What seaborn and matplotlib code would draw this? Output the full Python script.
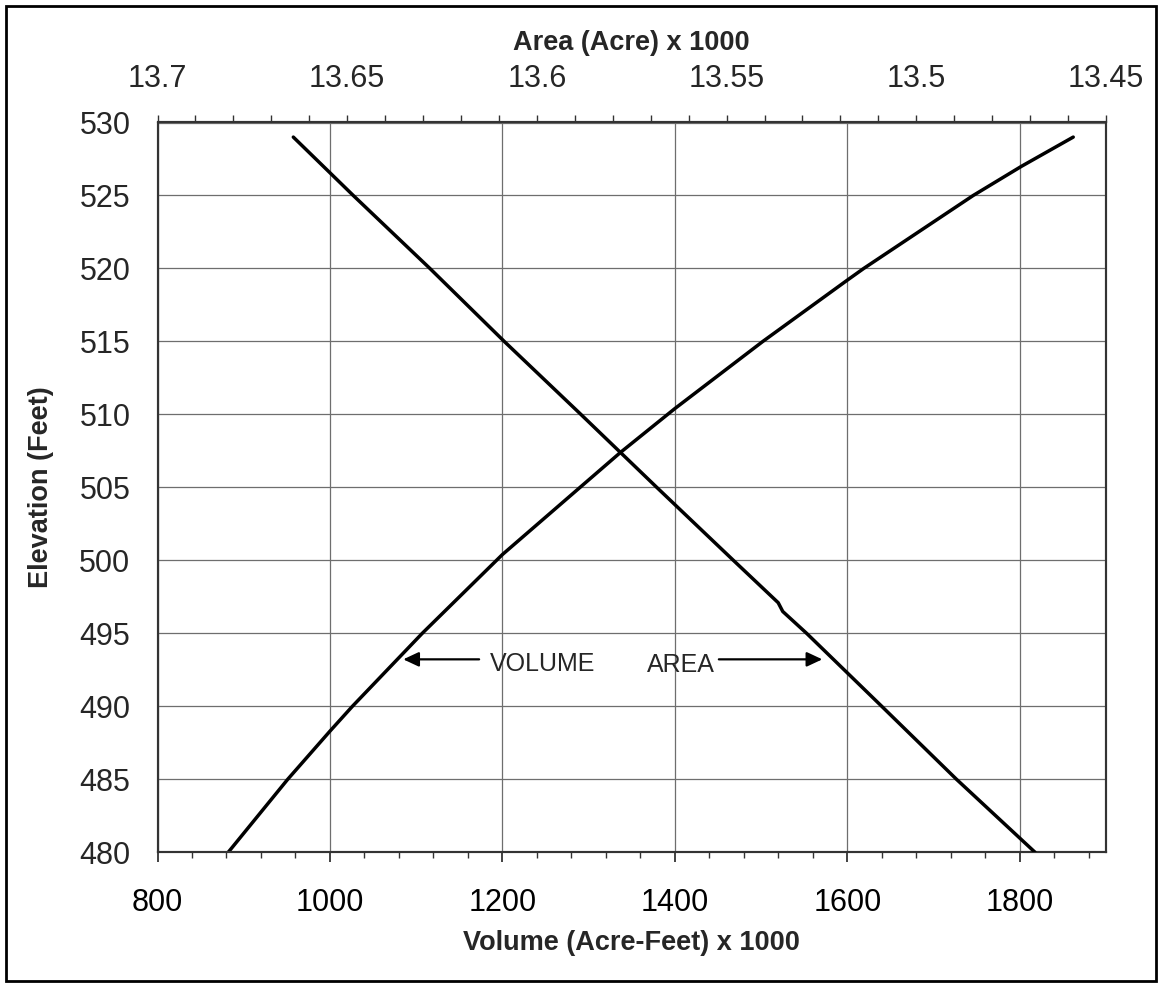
import numpy as np
import pandas as pd
import matplotlib
matplotlib.use("Agg")
import matplotlib.pyplot as plt
from matplotlib.ticker import FixedLocator, MultipleLocator, FixedFormatter
from matplotlib.patches import Rectangle
import seaborn as sns

# ---- data ----
volume_elevation_ft = [480, 485, 488.3, 490, 495, 500.4, 505,
                       507.4, 510.4, 515, 519.2, 520, 525, 527, 529]
volume_kaf = [882, 951, 1000, 1026, 1107, 1200, 1290,
              1337, 1400, 1502, 1600, 1619, 1746, 1802, 1862]

area_elevation_ft = [480, 485, 490, 495, 496.5, 497.1, 500, 505, 510, 515, 520, 525, 529]
area_kac = [13.4687, 13.4894, 13.5091, 13.5289, 13.5352, 13.5364, 13.5482,
            13.5684, 13.5884, 13.6086, 13.6282, 13.6484, 13.6642]

volume_ticks = [800, 1000, 1200, 1400, 1600, 1800]
volume_tick_labels = ["800", "1000", "1200", "1400", "1600", "1800"]
area_ticks = [13.7, 13.65, 13.6, 13.55, 13.5, 13.45]
area_tick_labels = ["13.7", "13.65", "13.6", "13.55", "13.5", "13.45"]
elevation_ticks = [480, 485, 490, 495, 500, 505, 510, 515, 520, 525, 530]
elevation_tick_labels = [str(v) for v in elevation_ticks]

vol_df = pd.DataFrame({"Volume": volume_kaf, "Elevation": volume_elevation_ft})
area_df = pd.DataFrame({"Area": area_kac, "Elevation": area_elevation_ft})

# ---- style ----
sns.set_style("white")
plt.rcParams["font.family"] = ["Liberation Sans", "DejaVu Sans"]

W, H = 1160, 983
fig = plt.figure(figsize=(W / 100, H / 100), dpi=100)
left, right, top, bottom = 157.5, 1106, 122.5, 852.3
ax = fig.add_axes([left / W, 1 - bottom / H, (right - left) / W, (bottom - top) / H])

sns.lineplot(data=vol_df, x="Volume", y="Elevation", ax=ax, sort=False, estimator=None,
             color="black", linewidth=2.5, solid_capstyle="round",
             solid_joinstyle="round", zorder=5)

ax.set_xlim(800, 1900)
ax.set_ylim(480, 530)
ax.xaxis.set_major_locator(FixedLocator(volume_ticks))
ax.xaxis.set_major_formatter(FixedFormatter(volume_tick_labels))
ax.xaxis.set_minor_locator(MultipleLocator(40))
ax.yaxis.set_major_locator(FixedLocator(elevation_ticks))
ax.yaxis.set_major_formatter(FixedFormatter(elevation_tick_labels))
ax.yaxis.set_minor_locator(MultipleLocator(1))
ax.grid(True, which="major", color="#6e6e6e", linewidth=0.9)
ax.set_axisbelow(True)

ax.tick_params(axis="x", which="major", direction="out", length=7, width=1.3,
               labelsize=22, pad=19, color="#333333", labelcolor="black", top=False)
ax.tick_params(axis="x", which="minor", direction="out", length=4.5, width=1.0,
               color="#333333", top=False)
ax.tick_params(axis="y", which="major", direction="out", length=8, width=1.3,
               labelsize=22, pad=11.5, color="#222222", right=False)
ax.tick_params(axis="y", which="minor", direction="out", length=5, width=1.0,
               color="#222222", right=False)

for s in ax.spines.values():
    s.set_color("#333333")
    s.set_linewidth(1.5)

ax.set_xlabel("Volume (Acre-Feet) x 1000", fontsize=19.5, fontweight="bold", labelpad=8)
ax.set_ylabel("Elevation (Feet)", fontsize=19.5, fontweight="bold", labelpad=18)

# ---- secondary (top) axis for area ----
ax2 = ax.twiny()
sns.lineplot(data=area_df, x="Area", y="Elevation", ax=ax2, sort=False, estimator=None,
             color="black", linewidth=2.5, solid_capstyle="round",
             solid_joinstyle="round", zorder=5)
ax2.set_xlim(13.7, 13.45)
ax2.set_ylim(480, 530)
ax2.xaxis.set_major_locator(FixedLocator(area_ticks))
ax2.xaxis.set_major_formatter(FixedFormatter(area_tick_labels))
ax2.xaxis.set_minor_locator(MultipleLocator(0.01))
ax2.grid(False)
ax2.tick_params(axis="x", which="both", direction="out", length=5, width=1.0,
                labelsize=22, pad=15.5, color="#333333", top=True, bottom=False)
ax2.set_xlabel("Area (Acre) x 1000", fontsize=19.5, fontweight="bold", labelpad=10)
for s in ax2.spines.values():
    s.set_color("#333333")
    s.set_linewidth(1.5)

# ---- annotations ----
arrow_kw = dict(arrowstyle="-|>,head_length=0.47,head_width=0.22", color="black",
                lw=1.6, shrinkA=0, shrinkB=0, mutation_scale=20)
ax.annotate("", xy=(1085, 493.22), xytext=(1173, 493.22), arrowprops=arrow_kw, zorder=6)
ax.text(1186, 492.44, "VOLUME", fontsize=18, ha="left", va="baseline", zorder=6)
ax.annotate("", xy=(1571, 493.22), xytext=(1451, 493.22), arrowprops=arrow_kw, zorder=6)
ax.text(1367.5, 492.33, "AREA", fontsize=18, ha="left", va="baseline", zorder=6)

# ---- outer border ----
fig.add_artist(Rectangle((6 / W, 2 / H), 1150 / W, 975 / H, transform=fig.transFigure,
                         fill=False, edgecolor="black", linewidth=2.0))

fig.savefig("out.png", dpi=100)
